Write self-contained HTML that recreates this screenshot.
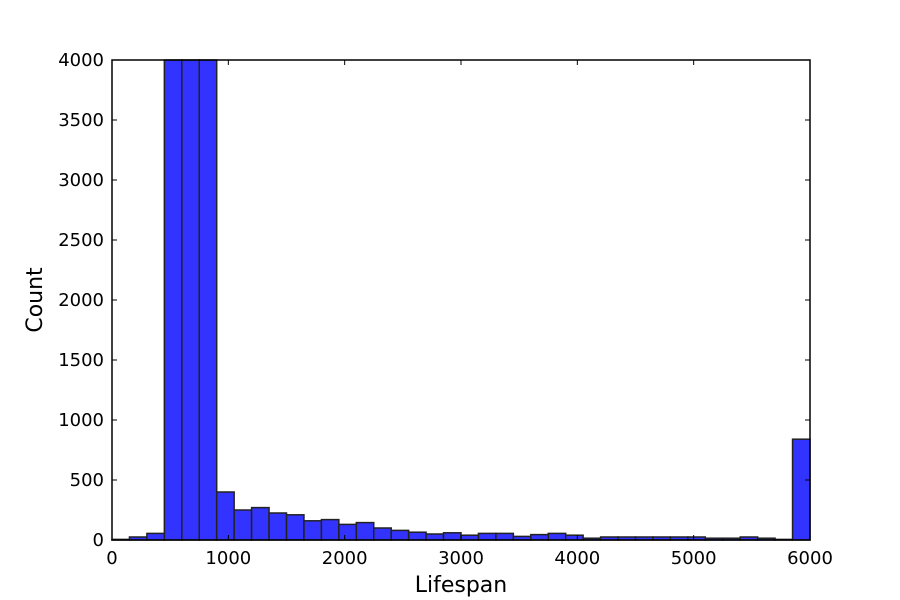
<!DOCTYPE html>
<html><head><meta charset="utf-8"><style>
body{margin:0;background:#fff;}
svg{display:block;font-family:"DejaVu Sans","Liberation Sans",sans-serif;}
</style></head><body>
<svg id="chart" width="900" height="600">
<rect x="0" y="0" width="900" height="600" fill="#fff"/>
<g id="bars"></g>
<g id="axes"></g>
<text x="461" y="592" font-size="22" text-anchor="middle">Lifespan</text>
<text transform="translate(42,300) rotate(-90)" font-size="22" text-anchor="middle">Count</text>
</svg>
<script>
const binStart = 0;
const binWidth = 150;
const counts = [5,25,55,4500,4500,4500,400,250,270,225,210,160,170,130,145,100,80,65,50,60,40,55,55,30,45,55,40,15,25,25,25,25,25,25,15,15,25,15,5,840];
const xTicks = [0,1000,2000,3000,4000,5000,6000];
const yTicks = [0,500,1000,1500,2000,2500,3000,3500,4000];
const L=112,R=810,T=60,B=540,xMax=6000,yMax=4000;
const sx=v=>L+(v/xMax)*(R-L);
const sy=v=>B-(Math.min(v,yMax)/yMax)*(B-T);
const NS="http://www.w3.org/2000/svg";
const bars=document.getElementById('bars'), axes=document.getElementById('axes');
const svg=document.getElementById('chart');
counts.forEach((c,i)=>{
  if(c<=0) return;
  const x0=sx(binStart+i*binWidth), x1=sx(binStart+(i+1)*binWidth);
  const r=document.createElementNS(NS,'rect');
  
  
  r.setAttribute('x',x0);r.setAttribute('width',x1-x0);
  r.setAttribute('y',sy(c));r.setAttribute('height',B-sy(c));
  r.setAttribute('fill','#3333ff');r.setAttribute('stroke','#222');r.setAttribute('stroke-width','1.5');
  bars.appendChild(r);
});
const frame=document.createElementNS(NS,'rect');


frame.setAttribute('x',L);frame.setAttribute('y',T);frame.setAttribute('width',R-L);frame.setAttribute('height',B-T);
frame.setAttribute('fill','none');frame.setAttribute('stroke','#000');frame.setAttribute('stroke-width','1.5');
svg.appendChild(frame);
function line(x1,y1,x2,y2){const l=document.createElementNS(NS,'line');l.setAttribute('x1',x1);l.setAttribute('y1',y1);l.setAttribute('x2',x2);l.setAttribute('y2',y2);l.setAttribute('stroke','#000');l.setAttribute('stroke-width','1');svg.appendChild(l);return l;}
xTicks.forEach(v=>{
  const x=sx(v);
  line(x,B,x,B-5);line(x,T,x,T+5);
  const t=document.createElementNS(NS,'text');
  
  
  t.setAttribute('x',x);t.setAttribute('y',B+24);t.setAttribute('font-size','18');t.setAttribute('text-anchor','middle');
  t.textContent=v;axes.appendChild(t);
});
yTicks.forEach(v=>{
  const y=sy(v);
  line(L,y,L+5,y);line(R,y,R-5,y);
  const t=document.createElementNS(NS,'text');
  
  
  t.setAttribute('x',L-8);t.setAttribute('y',y+6);t.setAttribute('font-size','18');t.setAttribute('text-anchor','end');
  t.textContent=v;axes.appendChild(t);
});
</script>
</body></html>
